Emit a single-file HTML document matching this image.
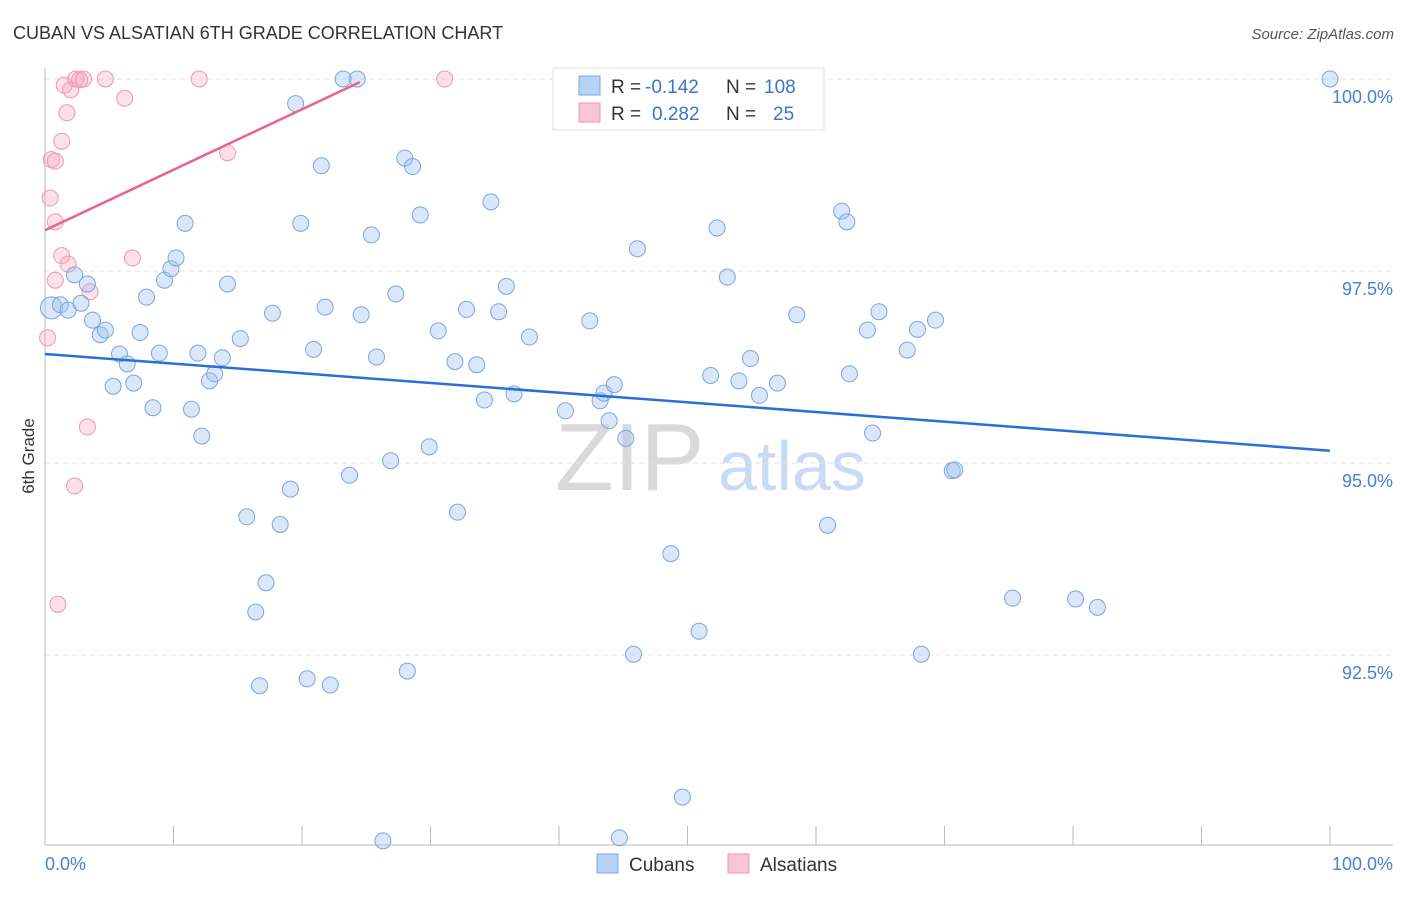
<!DOCTYPE html>
<html><head><meta charset="utf-8">
<style>
body{margin:0;background:#fff;font-family:"Liberation Sans",sans-serif;}
svg text{font-family:"Liberation Sans",sans-serif;}
</style></head>
<body>
<svg id="chart" width="1406" height="892" xmlns="http://www.w3.org/2000/svg">
<text x="13" y="39" font-size="18" fill="#333">CUBAN VS ALSATIAN 6TH GRADE CORRELATION CHART</text>
<text x="1394" y="39" font-size="15" fill="#555" text-anchor="end" font-style="italic">Source: ZipAtlas.com</text>
<g>
<text x="555" y="490" font-size="96" fill="#d9d9d9" font-family="Liberation Serif,serif">ZIP</text>
<text x="718" y="490" font-size="70" fill="#c9dbf3">atlas</text>
</g>
<g id="grid"></g>
<g id="axes"></g>
<g id="pinkPts"></g>
<g id="bluePts"></g>
<g id="lines"></g>
<text transform="translate(34,456) rotate(-90)" font-size="17" fill="#333" text-anchor="middle">6th Grade</text>
<g>
<rect x="553" y="68" width="271" height="62" fill="#fff" stroke="#ddd"/>
<rect x="579" y="76" width="21" height="19" fill="#b8d2f3" stroke="#7aa6e0"/>
<rect x="579" y="103" width="21" height="19" fill="#f8c6d5" stroke="#ee97b2"/>
<text x="611" y="93" font-size="19" fill="#333">R =</text>
<text x="645" y="93" font-size="19" fill="#3b74c9">-0.142</text>
<text x="726" y="93" font-size="19" fill="#333">N =</text>
<text x="764" y="93" font-size="19" fill="#3b74c9">108</text>
<text x="611" y="120" font-size="19" fill="#333">R =</text>
<text x="652" y="120" font-size="19" fill="#3b74c9">0.282</text>
<text x="726" y="120" font-size="19" fill="#333">N =</text>
<text x="773" y="120" font-size="19" fill="#3b74c9">25</text>
</g>
<g>
<rect x="597" y="854" width="21" height="19" fill="#b8d2f3" stroke="#7aa6e0"/>
<text x="629" y="871" font-size="19" fill="#333">Cubans</text>
<rect x="728" y="854" width="21" height="19" fill="#f8c6d5" stroke="#ee97b2"/>
<text x="760" y="871" font-size="19" fill="#333">Alsatians</text>
</g>
</svg>
<script>
const yTicks=[100,97.5,95,92.5];
const yTickLabels=["100.0%","97.5%","95.0%","92.5%"];
const xTickVals=[0,10,20,30,40,50,60,70,80,90,100];
const xEndLabels=["0.0%","100.0%"];
const blueX=[0.5,1.2,1.8,2.3,3.3,2.8,3.7,4.3,4.7,5.3,5.8,6.4,6.9,7.4,7.9,8.4,8.9,9.3,9.8,10.2,10.9,11.4,11.9,12.2,12.8,13.2,13.8,14.2,15.2,15.7,16.4,16.7,17.2,17.7,18.3,19.1,19.5,19.9,20.4,20.9,21.5,21.8,22.2,23.2,23.7,24.3,24.6,25.4,25.8,26.3,26.9,27.3,28.0,28.2,28.6,29.2,29.9,30.6,31.9,32.1,32.8,33.6,34.2,34.7,35.3,35.9,36.5,37.7,40.5,42.4,43.2,43.5,43.9,44.3,44.7,45.2,45.8,46.1,48.7,49.6,50.9,51.8,52.3,53.1,54.0,54.9,55.6,57.0,58.5,60.9,62.0,62.4,62.6,64.0,64.4,64.9,67.1,67.9,68.2,69.3,70.6,70.8,75.3,80.2,81.9,100];
const blueY=[97.02,97.06,96.99,97.45,97.33,97.08,96.86,96.67,96.73,96.00,96.42,96.29,96.04,96.70,97.16,95.72,96.43,97.38,97.53,97.67,98.12,95.70,96.43,95.35,96.07,96.16,96.37,97.33,96.62,94.30,93.06,92.10,93.44,96.95,94.20,94.66,99.68,98.12,92.19,96.48,98.87,97.03,92.11,100,94.84,100,96.93,97.97,96.38,90.08,95.03,97.2,98.97,92.29,98.86,98.23,95.21,96.72,96.32,94.36,97.00,96.28,95.82,98.4,96.97,97.30,95.90,96.64,95.68,96.85,95.81,95.91,95.55,96.02,90.12,95.32,92.51,97.79,93.82,90.65,92.81,96.14,98.06,97.42,96.07,96.36,95.88,96.04,96.93,94.19,98.28,98.14,96.16,96.73,95.39,96.97,96.47,96.74,92.51,96.86,94.90,94.91,93.24,93.23,93.12,100];
const pinkX=[0.2,0.4,0.5,0.8,0.8,0.8,1.0,1.3,1.5,1.7,1.8,2.0,2.3,2.4,2.7,3.0,3.3,3.5,4.7,6.2,6.8,12.0,14.2,31.1,1.3];
const pinkY=[96.63,98.45,98.95,98.93,98.14,97.38,93.16,99.19,99.92,99.56,97.59,99.86,94.70,100,99.99,100,95.47,97.23,100,99.75,97.67,100,99.04,100,97.70];
const blueTrend=[96.42,95.16];
const pinkTrend=[98.03,99.96,24.5];
const NS="http://www.w3.org/2000/svg";
const X0=45,X1=1330,Y0=79,PPU=76.8;
const xs=v=>X0+(X1-X0)*v/100;
const ys=v=>Y0+(100-v)*PPU;
function mk(tag,attrs,parent){const e=document.createElementNS(NS,tag);for(const k in attrs)e.setAttribute(k,attrs[k]);parent.appendChild(e);return e;}
const grid=document.getElementById('grid'),axes=document.getElementById('axes');
yTicks.forEach((t,i)=>{
 const l=mk('line',{x1:X0,x2:1393,y1:ys(t),y2:ys(t),stroke:'#e3e3e3','stroke-dasharray':'5,4'},grid);
 
 
 const tx=mk('text',{x:1393,y:ys(t)+24,'font-size':18,fill:'#4a7fd4','text-anchor':'end'},axes);
 tx.textContent=yTickLabels[i];
 
 
});
const al=mk('line',{x1:X0,x2:X0,y1:68,y2:845,stroke:'#bbb'},axes);


const bl=mk('line',{x1:X0,x2:1393,y1:845,y2:845,stroke:'#bbb'},axes);


xTickVals.forEach(v=>{
 const t=mk('line',{x1:xs(v),x2:xs(v),y1:826,y2:845,stroke:'#bbb'},axes);
 
 
});
const xl0=mk('text',{x:X0,y:870,'font-size':18,fill:'#4a7fd4'},axes);xl0.textContent=xEndLabels[0];


const xl1=mk('text',{x:1393,y:870,'font-size':18,fill:'#4a7fd4','text-anchor':'end'},axes);xl1.textContent=xEndLabels[1];


const pg=document.getElementById('pinkPts');
pinkX.forEach((x,i)=>{
 const c=mk('circle',{cx:xs(x),cy:ys(pinkY[i]),r:8,fill:'rgba(245,170,196,0.35)',stroke:'#ee97b2','stroke-width':1},pg);
 
 
});
const bg=document.getElementById('bluePts');
blueX.forEach((x,i)=>{
 const c=mk('circle',{cx:xs(x),cy:ys(blueY[i]),r:i===0?11:8,fill:'rgba(160,195,240,0.4)',stroke:'#7aa6e0','stroke-width':1},bg);
 
 
});
const lg=document.getElementById('lines');
const b=mk('line',{x1:xs(0),y1:ys(blueTrend[0]),x2:xs(100),y2:ys(blueTrend[1]),stroke:'#2a6fd6','stroke-width':2.5},lg);


const p=mk('line',{x1:xs(0),y1:ys(pinkTrend[0]),x2:xs(pinkTrend[2]),y2:ys(pinkTrend[1]),stroke:'#e8638f','stroke-width':2.5},lg);


</script>
</body></html>
